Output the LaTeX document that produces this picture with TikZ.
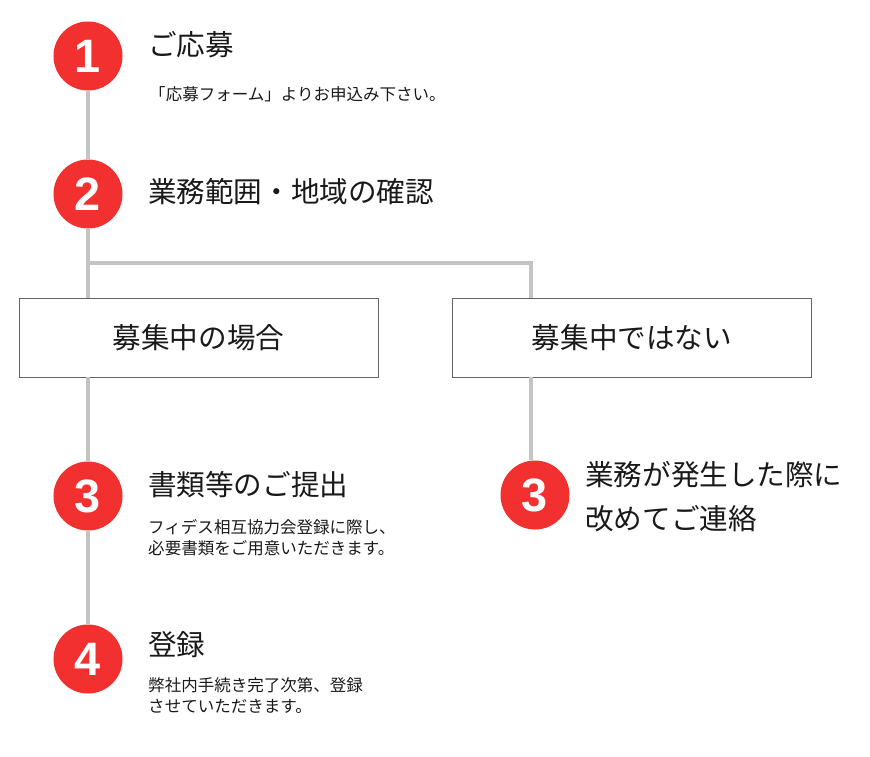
\documentclass[tikz,border=0pt]{standalone}
\usepackage{fontspec}
\setmainfont{Noto Sans CJK JP}
\newfontfamily\numfont{Liberation Sans}
\usetikzlibrary{positioning,calc}
\definecolor{stepred}{RGB}{242,48,48}
\definecolor{linegray}{RGB}{196,196,196}
\definecolor{boxgray}{RGB}{100,100,100}
\definecolor{txt}{RGB}{25,25,25}

\begin{document}
\begin{tikzpicture}[x=0.03cm, y=-0.03cm, text=txt,
  num/.style={circle, fill=stepred, text=white, inner sep=0pt, minimum size=2.07cm,
    font=\numfont\bfseries\fontsize{40pt}{40pt}\selectfont},
  ttl/.style={anchor=west, inner sep=0pt, font=\fontsize{24.4pt}{30pt}\selectfont},
  sub/.style={anchor=west, inner sep=0pt, align=left, font=\fontsize{14.1pt}{18pt}\selectfont},
  case/.style={draw=boxgray, line width=0.8pt, minimum width=10.77cm, minimum height=2.37cm,
    inner sep=0pt, font=\fontsize{24.4pt}{30pt}\selectfont},
  link/.style={draw=linegray, line width=3.2pt}]
  \useasboundingbox (0,0) rectangle (870,756);
  % steps 1 and 2
  \node[num] (c1) at (88,56)  {1};
  \node[ttl] (t1) at (148,45) {ご応募};
  \node[sub] (s1) at (149,94) {「応募フォーム」よりお申込み下さい。};
  \node[num] (c2) at (88,194) {2};
  \node[ttl] (t2) at (148,192) {業務範囲・地域の確認};
  % branch
  \node[case] (yes) at (198.5,337.5) {募集中の場合};
  \node[case] (no)  at (632,337.5)   {募集中ではない};
  \coordinate (spl) at (88,263);
  \coordinate (spr) at (531,263);
  % left: steps 3 and 4
  \node[num] (c3) at (88,496)  {3};
  \node[ttl] (t3) at (148,485) {書類等のご提出};
  \node[sub] (s3) at (148,537.5) {フィデス相互協力会登録に際し、\\必要書類をご用意いただきます。};
  \node[num] (c4) at (88,659)  {4};
  \node[ttl] (t4) at (148,645) {登録};
  \node[sub] (s4) at (148,695.5) {弊社内手続き完了次第、登録\\させていただきます。};
  % right: step 3
  \node[num] (c3r) at (535,495) {3};
  \node[ttl, align=left, font=\fontsize{24.4pt}{37pt}\selectfont] (t3r) at (585,496.5) {業務が発生した際に\\改めてご連絡};
  % connectors
  \draw[link] (c1) -- (c2);
  \draw[link] (c2) -- (c2 |- yes.north);
  \draw[link] (spl) -- (spr) -- (spr |- no.north);
  \draw[link] (c2 |- yes.south) -- (c3);
  \draw[link] (c3) -- (c4);
  \draw[link] (spr |- no.south) -- (spr |- c3r.north);
\end{tikzpicture}
\end{document}
